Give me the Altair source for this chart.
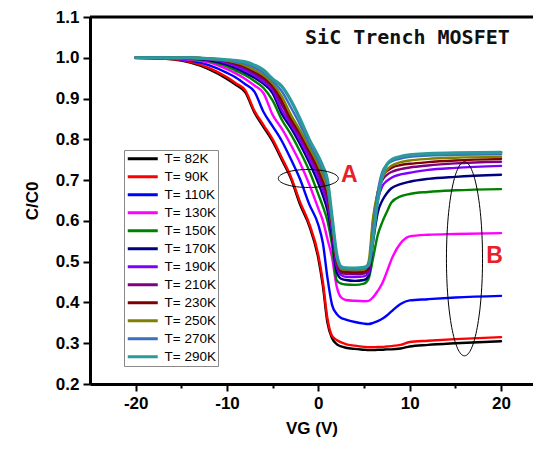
import altair as alt
import pandas as pd

# Gate voltage sample points (V)
vg = [-20, -16, -14, -12, -10, -9, -8, -7, -6, -5, -4, -3, -2, -1, 0, 0.5, 1, 1.5,
      2, 2.5, 3, 4, 5, 5.5, 6, 6.5, 7, 7.5, 8, 9, 10, 12, 15, 20]

c_82 = [1.000, 0.996, 0.988, 0.972, 0.948, 0.933, 0.915, 0.866, 0.830, 0.795, 0.750, 0.704, 0.640, 0.588,
        0.508, 0.440, 0.350, 0.312, 0.298, 0.292, 0.289, 0.286, 0.284, 0.283, 0.283, 0.284, 0.284, 0.285,
        0.285, 0.287, 0.292, 0.296, 0.300, 0.305]
c_90 = [1.000, 0.997, 0.990, 0.975, 0.952, 0.937, 0.920, 0.870, 0.835, 0.800, 0.755, 0.708, 0.646, 0.593,
        0.516, 0.450, 0.360, 0.318, 0.308, 0.302, 0.298, 0.294, 0.291, 0.290, 0.290, 0.291, 0.291, 0.292,
        0.293, 0.296, 0.303, 0.306, 0.310, 0.315]
c_110 = [1.000, 0.998, 0.993, 0.982, 0.963, 0.951, 0.935, 0.917, 0.867, 0.832, 0.796, 0.751, 0.702, 0.641,
         0.590, 0.545, 0.460, 0.394, 0.372, 0.362, 0.358, 0.352, 0.348, 0.347, 0.350, 0.354, 0.360, 0.368,
         0.378, 0.396, 0.405, 0.408, 0.412, 0.416]
c_130 = [1.000, 0.999, 0.995, 0.989, 0.972, 0.961, 0.948, 0.932, 0.913, 0.860, 0.826, 0.786, 0.742, 0.690,
         0.630, 0.600, 0.555, 0.510, 0.440, 0.412, 0.406, 0.404, 0.403, 0.404, 0.413, 0.428, 0.447, 0.475,
         0.505, 0.545, 0.562, 0.566, 0.568, 0.570]
c_150 = [1.000, 1.000, 0.997, 0.992, 0.979, 0.968, 0.957, 0.943, 0.926, 0.895, 0.848, 0.812, 0.770, 0.723,
         0.665, 0.635, 0.600, 0.540, 0.455, 0.446, 0.444, 0.443, 0.446, 0.458, 0.510, 0.565, 0.597, 0.622,
         0.645, 0.660, 0.666, 0.671, 0.675, 0.678]
c_170 = [1.000, 1.000, 0.998, 0.994, 0.983, 0.974, 0.963, 0.951, 0.936, 0.913, 0.862, 0.828, 0.788, 0.743,
         0.692, 0.662, 0.625, 0.560, 0.475, 0.458, 0.455, 0.453, 0.455, 0.465, 0.550, 0.620, 0.650, 0.668,
         0.680, 0.690, 0.696, 0.703, 0.708, 0.713]
c_190 = [1.000, 1.000, 0.999, 0.996, 0.987, 0.979, 0.969, 0.957, 0.941, 0.921, 0.872, 0.836, 0.798, 0.753,
         0.706, 0.676, 0.643, 0.575, 0.490, 0.467, 0.463, 0.462, 0.464, 0.472, 0.570, 0.650, 0.685, 0.698,
         0.706, 0.714, 0.718, 0.725, 0.730, 0.735]
c_210 = [1.000, 1.000, 1.000, 0.997, 0.990, 0.983, 0.974, 0.962, 0.947, 0.927, 0.885, 0.843, 0.808, 0.764,
         0.718, 0.689, 0.656, 0.585, 0.500, 0.473, 0.470, 0.469, 0.471, 0.478, 0.590, 0.670, 0.700, 0.713,
         0.720, 0.727, 0.731, 0.736, 0.741, 0.745]
c_230 = [1.000, 1.000, 1.000, 0.998, 0.992, 0.986, 0.978, 0.966, 0.952, 0.932, 0.895, 0.850, 0.815, 0.772,
         0.728, 0.700, 0.667, 0.595, 0.505, 0.478, 0.475, 0.474, 0.476, 0.483, 0.600, 0.665, 0.710, 0.722,
         0.730, 0.737, 0.740, 0.744, 0.748, 0.752]
c_250 = [1.000, 1.000, 1.000, 0.998, 0.993, 0.988, 0.981, 0.970, 0.957, 0.937, 0.905, 0.860, 0.822, 0.780,
         0.737, 0.710, 0.677, 0.600, 0.510, 0.482, 0.480, 0.479, 0.480, 0.500, 0.610, 0.670, 0.705, 0.725,
         0.735, 0.744, 0.748, 0.752, 0.755, 0.757]
c_270 = [1.000, 1.000, 1.000, 0.998, 0.994, 0.990, 0.985, 0.976, 0.963, 0.943, 0.918, 0.878, 0.836, 0.790,
         0.748, 0.722, 0.688, 0.605, 0.515, 0.485, 0.482, 0.481, 0.483, 0.490, 0.580, 0.670, 0.720, 0.738,
         0.746, 0.753, 0.757, 0.760, 0.762, 0.763]
c_290 = [1.000, 1.000, 1.000, 0.998, 0.995, 0.993, 0.990, 0.982, 0.970, 0.948, 0.930, 0.895, 0.850, 0.800,
         0.758, 0.733, 0.700, 0.610, 0.520, 0.488, 0.485, 0.484, 0.486, 0.492, 0.560, 0.650, 0.710, 0.738,
         0.750, 0.758, 0.762, 0.765, 0.767, 0.768]

labels = ["T= 82K", "T= 90K", "T= 110K", "T= 130K", "T= 150K", "T= 170K",
          "T= 190K", "T= 210K", "T= 230K", "T= 250K", "T= 270K", "T= 290K"]
series = [c_82, c_90, c_110, c_130, c_150, c_170, c_190, c_210, c_230, c_250, c_270, c_290]
colors = ["#000000", "#FF0000", "#0000FF", "#FF00FF", "#008000", "#000080",
          "#8000FF", "#800080", "#800000", "#808000", "#3B6FC0", "#2A9A9A"]

x_ticks = [-20, -15, -10, -5, 0, 5, 10, 15, 20]
y_ticks = [0.2, 0.25, 0.3, 0.35, 0.4, 0.45, 0.5, 0.55, 0.6, 0.65, 0.7, 0.75, 0.8, 0.85,
           0.9, 0.95, 1.0, 1.05, 1.1]

rows = []
for lab, ys in zip(labels, series):
    for i, (xv, yv) in enumerate(zip(vg, ys)):
        rows.append({"VG": xv, "C": yv, "T": lab, "i": i})
df = pd.DataFrame(rows)

FONT = "Liberation Sans"

xscale = alt.Scale(domain=[-25, 23.5], nice=False, zero=False)
yscale = alt.Scale(domain=[0.2, 1.1], nice=False, zero=False)

x_axis = alt.Axis(
    values=x_ticks, grid=False, title="VG (V)",
    labelExpr="datum.value % 10 === 0 ? '' + datum.value : ''",
    tickSize={"condition": {"test": "datum.value % 10 === 0", "value": 7}, "value": 4},
    tickWidth=2, tickColor="black", domainWidth=3, domainColor="black",
    labelFont=FONT, labelFontSize=17, labelFontWeight="bold", labelColor="black",
    labelPadding=4, labelFlush=False, labelOverlap=False,
    titleFont=FONT, titleFontSize=17, titleFontWeight="bold", titleColor="black",
    titlePadding=9,
)
y_axis = alt.Axis(
    values=y_ticks, grid=False, title="C/C0",
    labelExpr="abs(datum.value*10 - round(datum.value*10)) < 0.01 ? format(datum.value, '.1f') : ''",
    tickSize={"condition": {"test": "abs(datum.value*10 - round(datum.value*10)) < 0.01", "value": 7},
              "value": 4},
    tickWidth=2, tickColor="black", domainWidth=3, domainColor="black",
    labelFont=FONT, labelFontSize=17, labelFontWeight="bold", labelColor="black",
    labelPadding=4, labelOverlap=False, labelFlush=False,
    titleFont=FONT, titleFontSize=17, titleFontWeight="bold", titleColor="black",
    titlePadding=14,
)

lines = alt.Chart(df).mark_line(interpolate="monotone", strokeCap="round", strokeJoin="round").encode(
    x=alt.X("VG:Q", scale=xscale, axis=x_axis),
    y=alt.Y("C:Q", scale=yscale, axis=y_axis),
    color=alt.Color(
        "T:N",
        scale=alt.Scale(domain=labels, range=colors),
        sort=labels,
        legend=alt.Legend(
            orient="none", legendX=34, legendY=133, title=None,
            symbolType="M-3,0L3,0", symbolSize=100, symbolStrokeWidth=3,
            symbolOffset=10, labelOffset=15,
            labelFont=FONT, labelFontSize=13.5, labelColor="black",
            rowPadding=3, padding=2, strokeColor="#888888", fillColor="white",
            symbolLimit=0,
        ),
    ),
    strokeWidth=alt.condition(alt.datum.T == "T= 290K", alt.value(3.2), alt.value(2.4)),
    order="i:Q",
)

one = pd.DataFrame({"k": [0]})

top_rule = alt.Chart(one).mark_rule(color="black", strokeWidth=3).encode(
    x=alt.datum(-25), x2=alt.datum(23.5), y=alt.datum(1.1)
)

title_txt = alt.Chart(one).mark_text(
    font="DejaVu Sans Mono", fontSize=20, fontWeight="bold", color="#111111", align="center", baseline="middle"
).encode(x=alt.datum(9.75), y=alt.datum(1.049), text=alt.value("SiC Trench MOSFET"))

label_a = alt.Chart(one).mark_text(
    font="Liberation Sans Narrow, Liberation Sans", fontSize=23, fontWeight="bold", color="#E8202A",
    align="center", baseline="middle"
).encode(x=alt.datum(3.4), y=alt.datum(0.713), text=alt.value("A"))

label_b = alt.Chart(one).mark_text(
    font="Liberation Sans Narrow, Liberation Sans", fontSize=23, fontWeight="bold", color="#E8202A",
    align="center", baseline="middle"
).encode(x=alt.datum(19.3), y=alt.datum(0.514), text=alt.value("B"))

ell_a = alt.Chart(one).mark_point(
    shape="M-1,0A1,0.3,0,1,1,1,0A1,0.3,0,1,1,-1,0Z", size=3600, filled=False,
    color="black", strokeWidth=1, opacity=1
).encode(x=alt.datum(-1.1), y=alt.datum(0.704))

ell_b = alt.Chart(one).mark_point(
    shape="M-0.186,0A0.186,1,0,1,1,0.186,0A0.186,1,0,1,1,-0.186,0Z", size=37636, filled=False,
    color="black", strokeWidth=1, opacity=1
).encode(x=alt.datum(16.0), y=alt.datum(0.507))

chart = alt.layer(lines, top_rule, ell_a, ell_b, title_txt, label_a, label_b).properties(
    width=443, height=367,
    autosize=alt.AutoSizeParams(type="none"),
    padding={"left": 82, "top": 9, "right": 0, "bottom": 58},
).configure_view(stroke=None).configure(background="white")

chart.save("out.html", embed_options={"renderer": "svg", "actions": False})
